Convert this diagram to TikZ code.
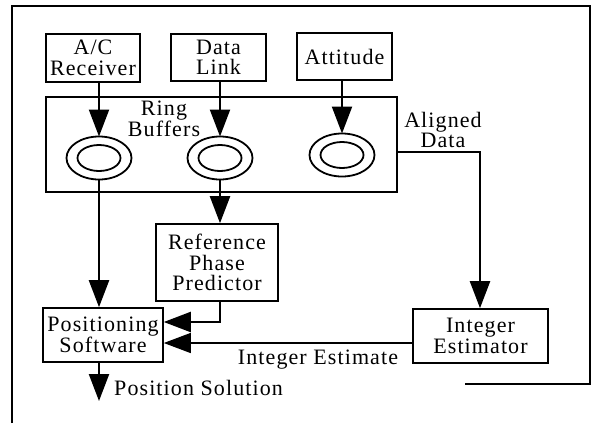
\documentclass[tikz,border=0pt]{standalone}
\usepackage{fontspec}
\setmainfont{Liberation Serif}[LetterSpace=5]
\usetikzlibrary{arrows.meta,calc}
\begin{document}
\begin{tikzpicture}[x=1pt,y=-1pt,
  lbl/.style={font=\fontsize{22}{20.5}\selectfont, align=center, inner sep=0pt},
  blk/.style={draw, line width=1.6pt, inner sep=0pt, lbl},
  flow/.style={line width=2.2pt, -{Triangle[width=20pt,length=27pt]}},
  thin flow/.style={line width=1.4pt, -{Triangle[width=20pt,length=27pt]}},
  frame/.style={line width=1.2pt}]
\useasboundingbox (0,0) rectangle (593,423);
% frame
\draw[frame] (12,423) -- (12,6) -- (590,6) -- (590,384) -- (465,384);
% source boxes
\node[blk, minimum width=94pt, minimum height=48pt] (ac) at (93,58) {A/C\\Receiver};
\node[blk, minimum width=95pt, minimum height=47pt] (dl) at (218.5,57.5) {Data\\Link};
\node[blk, minimum width=95pt, minimum height=47pt] (att) at (344.5,56.5) {Attitude};
% ring buffer box
\node[blk, minimum width=351pt, minimum height=95pt] (rb) at (221.5,144.5) {};
\node[lbl] (rbl) at (164,119) {Ring\\Buffers};
% rings
\foreach \n/\x/\y in {r1/99/158, r2/220/158, r3/342/155}{
  \draw[line width=1.8pt] (\x,\y) ellipse [x radius=32.5, y radius=21.5];
  \draw[line width=1.8pt] (\x,\y) ellipse [x radius=21.5, y radius=13];
  \coordinate (\n) at (\x,\y);
  \coordinate (\n n) at (\x,\y-21.5);
  \coordinate (\n s) at (\x,\y+21.5);
}
% other blocks
\node[blk, minimum width=122pt, minimum height=77pt] (rpp) at (217,262.5) {Reference\\Phase\\Predictor};
\node[blk, minimum width=120pt, minimum height=54pt] (ps) at (103,335) {Positioning\\Software};
\node[blk, minimum width=135pt, minimum height=54pt] (ie) at (480.5,336) {Integer\\Estimator};
% labels
\node[lbl] (ad) at (443,130) {Aligned\\Data};
\node[lbl] (iel) at (318,360) {Integer Estimate};
\node[lbl, anchor=west] (psl) at (114,388) {Position Solution};
% connectors
\draw[flow] (ac.south -| r1n) -- (r1n);
\draw[flow] (dl.south -| r2n) -- (r2n);
\draw[flow] (att.south -| r3n) -- (r3n);
\draw[flow] (r1s) -- (r1s |- ps.north);
\draw[flow] (r2s) -- (r2s |- rpp.north);
\coordinate (adc) at (480,152);
\draw[flow] (rb.east |- adc) -- (adc) -- (ie.north -| adc);
\coordinate (rpc) at (220,322);
\draw[flow] (rpp.south -| rpc) -- (rpc) -- (rpc -| ps.east);
\coordinate (iec) at (413,343);
\draw[thin flow] (iec) -- (iec -| ps.east);
\coordinate (sol) at (99,401);
\draw[flow] (ps.south -| sol) -- (sol);
\end{tikzpicture}
\end{document}
